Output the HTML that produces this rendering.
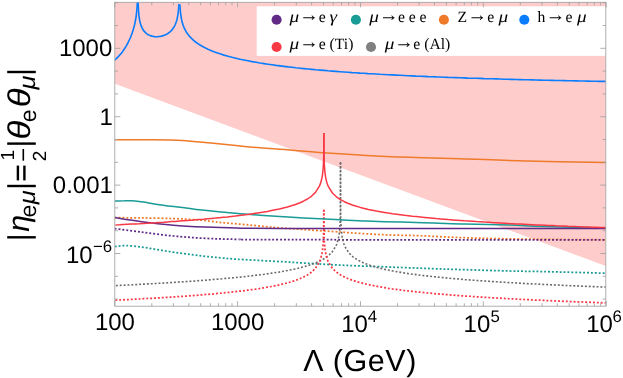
<!DOCTYPE html>
<html><head><meta charset="utf-8"><title>plot</title>
<style>html,body{margin:0;padding:0;background:#fff;}svg{display:block;will-change:transform;}text{font-family:"Liberation Sans",sans-serif;fill:#000;text-rendering:geometricPrecision;}.s{font-family:"Liberation Serif",serif;}.i{font-family:"Liberation Serif",serif;font-style:italic;}</style></head><body>
<svg width="623" height="378" viewBox="0 0 623 378">
<rect x="0" y="0" width="623" height="378" fill="#fff"/>
<clipPath id="c"><rect x="114.8" y="2.3" width="490.99999999999994" height="303.9"/></clipPath>
<g clip-path="url(#c)">
<path d="M114.8,2.3 L605.8,2.3 L605.8,266 L114.8,83.8 Z" fill="#ffcccc"/>
<path d="M114.8,217.7 C119.3,217.7 131.9,217.8 141.7,217.9 C151.5,218.1 163.9,218.2 173.5,218.6 C183.1,218.9 191.8,219.4 199.3,220.0 C206.8,220.6 213.4,221.6 218.5,222.2 C223.6,222.8 224.9,222.8 230.0,223.3 C235.1,223.8 242.9,224.4 249.3,225.0 C255.7,225.6 262.1,226.3 268.5,226.9 C274.9,227.5 280.9,228.0 287.8,228.5 C294.7,229.0 301.1,229.4 310.0,230.0 C318.9,230.6 333.1,231.5 341.3,232.1 C349.5,232.7 353.1,233.0 359.3,233.4 C365.5,233.8 372.1,234.2 378.5,234.5 C384.9,234.8 390.9,235.0 397.8,235.2 C404.7,235.4 409.9,235.3 420.0,235.7 C430.1,236.1 445.2,237.0 458.5,237.5 C471.8,238.0 484.8,238.4 500.0,238.7 C515.2,239.0 532.3,239.2 550.0,239.4 C567.7,239.6 596.7,239.7 606.0,239.8" fill="none" stroke="#ee7a2a" stroke-width="1.75" stroke-linejoin="round" stroke-dasharray="1.94,1.94"/>
<path d="M114.8,228.7 C119.3,229.3 131.9,231.0 141.7,232.2 C151.5,233.4 162.9,235.0 173.5,236.0 C184.1,237.0 194.6,237.8 205.2,238.3 C215.8,238.9 224.5,239.1 237.0,239.3 C249.5,239.5 218.5,239.6 280.0,239.7 C341.5,239.8 551.7,239.8 606.0,239.8" fill="none" stroke="#602a86" stroke-width="1.75" stroke-linejoin="round" stroke-dasharray="1.94,1.94"/>
<path d="M114.8,246.5 C116.7,246.3 121.4,245.5 125.9,245.6 C130.4,245.7 136.4,246.4 141.7,247.1 C147.0,247.8 152.3,248.8 157.6,249.7 C162.9,250.5 168.2,251.4 173.5,252.2 C178.8,253.0 184.1,253.7 189.4,254.4 C194.7,255.1 199.9,255.7 205.2,256.3 C210.5,256.9 215.8,257.4 221.1,257.9 C226.4,258.4 228.6,258.7 237.0,259.2 C245.4,259.7 260.6,260.5 271.7,261.1 C282.8,261.7 292.9,262.4 303.5,263.0 C314.1,263.6 324.6,264.4 335.2,264.9 C345.8,265.4 355.9,265.8 367.0,266.2 C378.1,266.6 390.6,267.1 401.7,267.5 C412.8,267.9 422.9,268.3 433.5,268.7 C444.1,269.1 452.5,269.3 465.2,269.7 C477.9,270.1 496.6,270.7 509.7,271.0 C522.8,271.3 527.5,271.2 543.5,271.6 C559.5,272.0 595.6,272.9 606.0,273.2" fill="none" stroke="#199b96" stroke-width="1.75" stroke-linejoin="round" stroke-dasharray="1.94,1.94"/>
<path d="M112.0,285.8 L116.0,285.6 L120.0,285.4 L124.0,285.2 L128.0,285.0 L132.0,284.8 L136.0,284.6 L140.0,284.3 L144.0,284.1 L148.0,283.9 L152.0,283.7 L156.0,283.5 L160.0,283.2 L164.0,283.0 L168.0,282.7 L172.0,282.5 L176.0,282.2 L180.0,282.0 L184.0,281.7 L188.0,281.4 L192.0,281.2 L196.0,280.9 L200.0,280.6 L204.0,280.3 L208.0,280.0 L212.0,279.6 L216.0,279.3 L220.0,279.0 L224.0,278.6 L228.0,278.2 L232.0,277.9 L236.0,277.5 L240.0,277.1 L244.0,276.7 L248.0,276.2 L252.0,275.8 L256.0,275.3 L260.0,274.8 L264.0,274.3 L268.0,273.7 L272.0,273.1 L276.0,272.5 L280.0,271.9 L284.0,271.2 L288.0,270.4 L292.0,269.6 L296.0,268.8 L300.0,267.8 L304.0,266.8 L308.0,265.6 L312.0,264.3 L316.0,262.8 L320.0,261.0 L324.0,258.8 L328.0,256.1 L332.0,252.2 L336.0,245.9 L336.5,244.7 L337.1,243.2 L337.5,241.8 L337.9,240.3 L338.3,238.8 L338.6,237.4 L338.9,235.9 L339.1,234.5 L339.3,233.0 L339.4,231.5 L339.6,230.1 L339.7,228.6 L339.8,227.1 L339.9,225.7 L340.0,224.2 L340.1,222.8 L340.1,221.3 L340.2,219.8 L340.2,218.4 L340.3,216.9 L340.3,215.5 L340.3,214.0 L340.3,212.5 L340.4,211.1 L340.4,209.6 L340.4,208.1 L340.4,206.7 L340.4,205.2 L340.4,203.8 L340.4,202.3 L340.5,200.8 L340.5,199.4 L340.5,197.9 L340.5,196.4 L340.5,195.0 L340.5,193.5 L340.5,192.1 L340.5,190.6 L340.5,189.1 L340.5,187.7 L340.5,162.0" fill="none" stroke="#6a6a6a" stroke-width="1.6" stroke-linejoin="round" stroke-dasharray="1.94,1.94"/>
<path d="M340.5,162.0 L340.5,188.5 L340.5,189.9 L340.5,191.4 L340.5,192.9 L340.5,194.3 L340.5,195.8 L340.5,197.2 L340.5,198.7 L340.5,200.2 L340.5,201.6 L340.6,203.1 L340.6,204.6 L340.6,206.0 L340.6,207.5 L340.6,208.9 L340.6,210.4 L340.6,211.9 L340.7,213.3 L340.7,214.8 L340.7,216.2 L340.7,217.7 L340.8,219.2 L340.8,220.6 L340.9,222.1 L340.9,223.6 L341.0,225.0 L341.1,226.5 L341.2,227.9 L341.3,229.4 L341.4,230.9 L341.6,232.3 L341.7,233.8 L341.9,235.2 L342.1,236.7 L342.4,238.2 L342.7,239.6 L343.1,241.1 L343.5,242.6 L343.9,244.0 L344.5,245.5 L345.0,246.7 L349.0,253.0 L353.0,256.8 L357.0,259.6 L361.0,261.7 L365.0,263.5 L369.0,265.0 L373.0,266.3 L377.0,267.4 L381.0,268.4 L385.0,269.4 L389.0,270.2 L393.0,271.0 L397.0,271.7 L401.0,272.4 L405.0,273.1 L409.0,273.7 L413.0,274.2 L417.0,274.7 L421.0,275.3 L425.0,275.7 L429.0,276.2 L433.0,276.6 L437.0,277.0 L441.0,277.4 L445.0,277.8 L449.0,278.2 L453.0,278.6 L457.0,278.9 L461.0,279.2 L465.0,279.6 L469.0,279.9 L473.0,280.2 L477.0,280.5 L481.0,280.8 L485.0,281.0 L489.0,281.3 L493.0,281.6 L497.0,281.8 L501.0,282.1 L505.0,282.3 L509.0,282.6 L513.0,282.8 L517.0,283.0 L521.0,283.2 L525.0,283.5 L529.0,283.7 L533.0,283.9 L537.0,284.1 L541.0,284.3 L545.0,284.5 L549.0,284.7 L553.0,284.9 L557.0,285.0 L561.0,285.2 L565.0,285.4 L569.0,285.6 L573.0,285.8 L577.0,285.9 L581.0,286.1 L585.0,286.3 L589.0,286.4 L593.0,286.6 L597.0,286.7 L601.0,286.9 L605.0,287.0 L609.0,287.2" fill="none" stroke="#6a6a6a" stroke-width="1.6" stroke-linejoin="round" stroke-dasharray="1.94,1.94"/>
<path d="M115.3,300.2 L119.3,300.0 L123.3,299.8 L127.3,299.6 L131.3,299.4 L135.3,299.2 L139.3,299.0 L143.3,298.7 L147.3,298.5 L151.3,298.3 L155.3,298.1 L159.3,297.8 L163.3,297.6 L167.3,297.3 L171.3,297.1 L175.3,296.8 L179.3,296.5 L183.3,296.3 L187.3,296.0 L191.3,295.7 L195.3,295.4 L199.3,295.1 L203.3,294.7 L207.3,294.4 L211.3,294.1 L215.3,293.7 L219.3,293.3 L223.3,292.9 L227.3,292.5 L231.3,292.1 L235.3,291.7 L239.3,291.2 L243.3,290.8 L247.3,290.2 L251.3,289.7 L255.3,289.2 L259.3,288.6 L263.3,287.9 L267.3,287.2 L271.3,286.5 L275.3,285.7 L279.3,284.9 L283.3,283.9 L287.3,282.9 L291.3,281.8 L295.3,280.5 L299.3,279.0 L303.3,277.2 L307.3,275.1 L311.3,272.3 L315.3,268.5 L319.3,262.2 L319.8,261.0 L320.4,259.5 L320.8,258.1 L321.2,256.6 L321.6,255.1 L321.9,253.7 L322.2,252.2 L322.4,250.7 L322.6,249.3 L322.7,247.8 L322.9,246.4 L323.0,244.9 L323.1,243.4 L323.2,242.0 L323.3,240.5 L323.4,239.1 L323.4,237.6 L323.5,236.1 L323.5,234.7 L323.6,233.2 L323.6,231.7 L323.6,230.3 L323.6,228.8 L323.7,227.4 L323.7,225.9 L323.7,224.4 L323.7,223.0 L323.7,221.5 L323.7,220.1 L323.7,218.6 L323.8,217.1 L323.8,215.7 L323.8,214.2 L323.8,212.7 L323.8,211.3 L323.8,209.8 L323.8,209.7" fill="none" stroke="#f93845" stroke-width="1.75" stroke-linejoin="round" stroke-dasharray="1.94,1.94"/>
<path d="M323.8,209.7 L323.8,211.0 L323.8,212.4 L323.8,213.9 L323.8,215.4 L323.8,216.8 L323.9,218.3 L323.9,219.8 L323.9,221.2 L323.9,222.7 L323.9,224.1 L323.9,225.6 L323.9,227.1 L324.0,228.5 L324.0,230.0 L324.0,231.4 L324.0,232.9 L324.1,234.4 L324.1,235.8 L324.2,237.3 L324.2,238.8 L324.3,240.2 L324.4,241.7 L324.5,243.1 L324.6,244.6 L324.7,246.1 L324.9,247.5 L325.0,249.0 L325.2,250.4 L325.4,251.9 L325.7,253.4 L326.0,254.8 L326.4,256.3 L326.8,257.8 L327.2,259.2 L327.8,260.7 L328.3,261.9 L332.3,268.2 L336.3,272.0 L340.3,274.8 L344.3,276.9 L348.3,278.7 L352.3,280.2 L356.3,281.5 L360.3,282.6 L364.3,283.6 L368.3,284.6 L372.3,285.4 L376.3,286.2 L380.3,286.9 L384.3,287.6 L388.3,288.3 L392.3,288.9 L396.3,289.4 L400.3,289.9 L404.3,290.5 L408.3,290.9 L412.3,291.4 L416.3,291.8 L420.3,292.2 L424.3,292.6 L428.3,293.0 L432.3,293.4 L436.3,293.8 L440.3,294.1 L444.3,294.4 L448.3,294.8 L452.3,295.1 L456.3,295.4 L460.3,295.7 L464.3,296.0 L468.3,296.2 L472.3,296.5 L476.3,296.8 L480.3,297.0 L484.3,297.3 L488.3,297.5 L492.3,297.8 L496.3,298.0 L500.3,298.2 L504.3,298.4 L508.3,298.7 L512.3,298.9 L516.3,299.1 L520.3,299.3 L524.3,299.5 L528.3,299.7 L532.3,299.9 L536.3,300.1 L540.3,300.2 L544.3,300.4 L548.3,300.6 L552.3,300.8 L556.3,301.0 L560.3,301.1 L564.3,301.3 L568.3,301.5 L572.3,301.6 L576.3,301.8 L580.3,301.9 L584.3,302.1 L588.3,302.2 L592.3,302.4 L596.3,302.5 L600.3,302.7 L604.3,302.8 L608.3,303.0" fill="none" stroke="#f93845" stroke-width="1.75" stroke-linejoin="round" stroke-dasharray="1.94,1.94"/>
<path d="M114.8,201.0 C116.4,201.0 121.4,200.8 124.3,200.8 C127.2,200.7 129.1,200.6 132.0,200.8 C134.9,201.0 138.9,201.5 141.7,201.8 C144.4,202.2 145.8,202.5 148.5,202.9 C151.2,203.3 154.4,204.0 157.6,204.5 C160.8,205.0 164.1,205.5 167.8,205.9 C171.5,206.3 176.3,206.8 180.0,207.2 C183.7,207.6 186.8,208.2 190.0,208.6 C193.2,209.0 194.6,209.3 199.3,209.8 C204.1,210.3 212.1,211.1 218.5,211.7 C224.9,212.3 230.9,212.8 237.8,213.4 C244.7,214.0 254.3,214.9 260.0,215.3 C265.6,215.7 264.4,215.6 271.7,216.0 C278.9,216.4 292.9,217.3 303.5,217.9 C314.1,218.5 324.6,219.0 335.2,219.5 C345.8,220.0 355.9,220.7 367.0,221.1 C378.1,221.5 390.6,221.8 401.7,222.1 C412.8,222.4 422.9,222.7 433.5,223.0 C444.1,223.3 452.5,223.7 465.2,224.0 C477.9,224.3 496.6,224.6 509.7,225.0 C522.8,225.4 527.5,226.0 543.5,226.5 C559.5,227.0 595.6,227.8 606.0,228.1" fill="none" stroke="#199b96" stroke-width="1.5" stroke-linejoin="round"/>
<path d="M114.8,217.6 C119.3,218.3 131.9,220.4 141.7,221.7 C151.5,223.0 162.9,224.3 173.5,225.2 C184.1,226.1 194.6,226.6 205.2,227.1 C215.8,227.6 224.5,227.9 237.0,228.1 C249.5,228.3 218.5,228.3 280.0,228.4 C341.5,228.5 551.7,228.4 606.0,228.4" fill="none" stroke="#602a86" stroke-width="1.5" stroke-linejoin="round"/>
<path d="M114.8,139.7 C121.2,139.7 142.1,139.6 153.3,139.7 C164.5,139.8 172.6,139.9 182.2,140.5 C191.8,141.1 201.4,142.2 211.0,143.1 C220.6,144.0 230.3,145.1 240.0,146.0 C249.7,146.9 260.7,147.9 269.0,148.6 C277.3,149.3 280.9,149.3 290.0,150.0 C299.1,150.7 310.6,151.8 323.4,152.7 C336.2,153.6 352.3,154.7 366.7,155.5 C381.1,156.3 394.4,156.8 410.0,157.3 C425.6,157.8 440.6,158.1 460.0,158.7 C479.4,159.3 502.4,160.4 526.7,161.0 C551.0,161.6 592.8,162.2 606.0,162.5" fill="none" stroke="#ee7a2a" stroke-width="1.5" stroke-linejoin="round"/>
<path d="M115.4,225.0 L119.4,224.8 L123.4,224.5 L127.4,224.3 L131.4,224.1 L135.4,223.9 L139.4,223.7 L143.4,223.4 L147.4,223.2 L151.4,222.9 L155.4,222.7 L159.4,222.4 L163.4,222.2 L167.4,221.9 L171.4,221.6 L175.4,221.4 L179.4,221.1 L183.4,220.8 L187.4,220.5 L191.4,220.2 L195.4,219.8 L199.4,219.5 L203.4,219.2 L207.4,218.8 L211.4,218.4 L215.4,218.1 L219.4,217.7 L223.4,217.3 L227.4,216.9 L231.4,216.4 L235.4,216.0 L239.4,215.5 L243.4,215.0 L247.4,214.5 L251.4,213.9 L255.4,213.3 L259.4,212.7 L263.4,212.1 L267.4,211.4 L271.4,210.6 L275.4,209.8 L279.4,209.0 L283.4,208.0 L287.4,207.0 L291.4,205.8 L295.4,204.5 L299.4,203.0 L303.4,201.2 L307.4,199.0 L311.4,196.3 L315.4,192.4 L319.4,186.1 L319.9,184.9 L320.5,183.4 L320.9,182.0 L321.3,180.5 L321.7,179.0 L322.0,177.6 L322.3,176.1 L322.5,174.7 L322.7,173.2 L322.8,171.7 L323.0,170.3 L323.1,168.8 L323.2,167.3 L323.3,165.9 L323.4,164.4 L323.5,163.0 L323.5,161.5 L323.6,160.0 L323.6,158.6 L323.7,157.1 L323.7,155.7 L323.7,154.2 L323.7,152.7 L323.8,151.3 L323.8,149.8 L323.8,148.3 L323.8,146.9 L323.8,145.4 L323.8,144.0 L323.8,142.5 L323.9,141.0 L323.9,139.6 L323.9,138.1 L323.9,136.6 L323.9,135.2 L323.9,133.7 L323.9,133.0" fill="none" stroke="#f93845" stroke-width="1.5" stroke-linejoin="round"/>
<path d="M323.9,133.0 L323.9,134.3 L323.9,135.8 L323.9,137.2 L323.9,138.7 L323.9,140.2 L323.9,141.6 L324.0,143.1 L324.0,144.6 L324.0,146.0 L324.0,147.5 L324.0,148.9 L324.0,150.4 L324.0,151.9 L324.1,153.3 L324.1,154.8 L324.1,156.2 L324.1,157.7 L324.2,159.2 L324.2,160.6 L324.3,162.1 L324.3,163.6 L324.4,165.0 L324.5,166.5 L324.6,167.9 L324.7,169.4 L324.8,170.9 L325.0,172.3 L325.1,173.8 L325.3,175.2 L325.5,176.7 L325.8,178.2 L326.1,179.6 L326.5,181.1 L326.9,182.6 L327.3,184.0 L327.9,185.5 L328.4,186.7 L332.4,193.0 L336.4,196.8 L340.4,199.6 L344.4,201.7 L348.4,203.5 L352.4,205.0 L356.4,206.3 L360.4,207.4 L364.4,208.4 L368.4,209.4 L372.4,210.2 L376.4,211.0 L380.4,211.7 L384.4,212.4 L388.4,213.1 L392.4,213.7 L396.4,214.2 L400.4,214.7 L404.4,215.3 L408.4,215.7 L412.4,216.2 L416.4,216.6 L420.4,217.0 L424.4,217.4 L428.4,217.8 L432.4,218.2 L436.4,218.6 L440.4,218.9 L444.4,219.2 L448.4,219.6 L452.4,219.9 L456.4,220.2 L460.4,220.5 L464.4,220.8 L468.4,221.0 L472.4,221.3 L476.4,221.6 L480.4,221.8 L484.4,222.1 L488.4,222.3 L492.4,222.6 L496.4,222.8 L500.4,223.0 L504.4,223.2 L508.4,223.5 L512.4,223.7 L516.4,223.9 L520.4,224.1 L524.4,224.3 L528.4,224.5 L532.4,224.7 L536.4,224.9 L540.4,225.0 L544.4,225.2 L548.4,225.4 L552.4,225.6 L556.4,225.8 L560.4,225.9 L564.4,226.1 L568.4,226.3 L572.4,226.4 L576.4,226.6 L580.4,226.7 L584.4,226.9 L588.4,227.0 L592.4,227.2 L596.4,227.3 L600.4,227.5 L604.4,227.6 L608.4,227.8" fill="none" stroke="#f93845" stroke-width="1.5" stroke-linejoin="round"/>
<path d="M114.3,60.3 L115.3,59.4 L116.3,58.6 L117.3,57.6 L118.3,56.6 L119.3,55.5 L120.3,54.4 L121.3,53.2 L122.3,51.9 L123.3,50.5 L124.3,49.0 L125.3,47.5 L126.3,45.8 L127.3,44.0 L128.3,42.1 L129.3,40.0 L130.3,37.8 L131.3,35.3 L132.3,32.6 L133.3,29.4 L134.3,25.8 L134.7,24.2 L135.2,21.8 L135.3,21.3 L135.6,19.5 L136.0,17.3 L136.3,15.1 L136.3,15.1 L136.5,13.0 L136.8,11.0 L136.9,9.0 L137.1,7.0 L137.2,5.1 L137.3,3.5 L137.3,3.2 L137.4,1.3 L137.8,0.5" fill="none" stroke="#0a7dff" stroke-width="1.65" stroke-linejoin="round"/>
<path d="M137.8,0.5 L138.1,1.6 L138.2,3.3 L138.2,5.1 L138.3,6.8 L138.3,6.9 L138.4,8.6 L138.5,10.3 L138.6,12.0 L138.8,13.7 L138.9,15.4 L139.2,17.1 L139.3,18.2 L139.4,18.8 L139.7,20.5 L140.1,22.1 L140.3,23.1 L140.5,23.8 L141.0,25.4 L141.3,26.1 L142.3,28.3 L143.3,30.0 L144.3,31.4 L145.3,32.4 L146.3,33.3 L147.3,34.1 L148.3,34.7 L149.3,35.2 L150.3,35.6 L151.3,35.9 L152.3,36.2 L153.3,36.4 L154.3,36.6 L155.3,36.7 L156.3,36.7 L157.3,36.7 L158.3,36.6 L159.3,36.5 L160.3,36.4 L161.3,36.2 L162.3,35.9 L163.3,35.6 L164.3,35.3 L165.3,34.8 L166.3,34.4 L167.3,33.8 L168.3,33.2 L169.3,32.4 L170.3,31.6 L171.3,30.6 L172.3,29.5 L173.3,28.1 L174.3,26.5 L175.3,24.5 L176.2,22.0 L176.3,21.8 L176.8,20.3 L177.2,18.6 L177.3,18.1 L177.5,16.9 L177.8,15.1 L178.1,13.4 L178.3,11.8 L178.3,11.7 L178.5,9.9 L178.6,8.2 L178.8,6.4 L178.9,4.7 L179.4,4.3" fill="none" stroke="#0a7dff" stroke-width="1.65" stroke-linejoin="round"/>
<path d="M179.4,4.3 L179.9,5.2 L180.0,7.0 L180.2,8.8 L180.3,10.5 L180.3,10.6 L180.5,12.4 L180.7,14.2 L181.0,16.0 L181.3,17.9 L181.3,18.1 L181.6,19.7 L182.0,21.6 L182.3,22.5 L182.6,23.4 L183.3,25.7 L184.3,28.1 L185.3,30.2 L186.3,31.9 L187.3,33.5 L188.3,34.8 L189.3,36.1 L190.3,37.2 L191.3,38.2 L192.3,39.2 L193.3,40.1 L194.3,41.0 L195.3,41.7 L196.3,42.5 L197.3,43.2 L198.3,43.9 L199.3,44.5 L200.0,45.0 L204.0,47.2 L208.0,49.2 L212.0,50.9 L216.0,52.4 L220.0,53.8 L224.0,55.1 L228.0,56.2 L232.0,57.3 L236.0,58.3 L240.0,59.2 L244.0,60.0 L248.0,60.8 L252.0,61.6 L256.0,62.3 L260.0,63.0 L264.0,63.6 L268.0,64.2 L272.0,64.8 L276.0,65.4 L280.0,65.9 L284.0,66.4 L288.0,66.9 L292.0,67.3 L296.0,67.8 L300.0,68.2 L304.0,68.6 L308.0,69.0 L312.0,69.4 L316.0,69.8 L320.0,70.1 L324.0,70.4 L328.0,70.8 L332.0,71.1 L336.0,71.4 L340.0,71.7 L344.0,72.0 L348.0,72.3 L352.0,72.6 L356.0,72.8 L360.0,73.1 L364.0,73.3 L368.0,73.6 L372.0,73.8 L376.0,74.0 L380.0,74.3 L384.0,74.5 L388.0,74.7 L392.0,74.9 L396.0,75.1 L400.0,75.3 L404.0,75.5 L408.0,75.7 L412.0,75.9 L416.0,76.1 L420.0,76.2 L424.0,76.4 L428.0,76.6 L432.0,76.7 L436.0,76.9 L440.0,77.0 L444.0,77.2 L448.0,77.4 L452.0,77.5 L456.0,77.6 L460.0,77.8 L464.0,77.9 L468.0,78.1 L472.0,78.2 L476.0,78.3 L480.0,78.4 L484.0,78.6 L488.0,78.7 L492.0,78.8 L496.0,78.9 L500.0,79.0 L504.0,79.2 L508.0,79.3 L512.0,79.4 L516.0,79.5 L520.0,79.6 L524.0,79.7 L528.0,79.8 L532.0,79.9 L536.0,80.0 L540.0,80.1 L544.0,80.2 L548.0,80.3 L552.0,80.4 L556.0,80.5 L560.0,80.5 L564.0,80.6 L568.0,80.7 L572.0,80.8 L576.0,80.9 L580.0,81.0 L584.0,81.0 L588.0,81.1 L592.0,81.2 L596.0,81.3 L600.0,81.4 L604.0,81.4 L606.0,81.5" fill="none" stroke="#0a7dff" stroke-width="1.65" stroke-linejoin="round"/>
</g>
<rect x="256.7" y="6.3" width="349.6" height="49.6" fill="#fff"/>
<g stroke="#a0a0a0" stroke-width="0.85" fill="none">
<rect x="114.8" y="2.3" width="490.99999999999994" height="303.9"/>
<path d="M114.8,306.2 v-5 M114.8,2.3 v5"/>
<path d="M151.8,306.2 v-3 M151.8,2.3 v3"/>
<path d="M173.4,306.2 v-3 M173.4,2.3 v3"/>
<path d="M188.8,306.2 v-3 M188.8,2.3 v3"/>
<path d="M200.7,306.2 v-3 M200.7,2.3 v3"/>
<path d="M210.4,306.2 v-3 M210.4,2.3 v3"/>
<path d="M218.6,306.2 v-3 M218.6,2.3 v3"/>
<path d="M225.7,306.2 v-3 M225.7,2.3 v3"/>
<path d="M232.0,306.2 v-3 M232.0,2.3 v3"/>
<path d="M237.6,306.2 v-5 M237.6,2.3 v5"/>
<path d="M274.6,306.2 v-3 M274.6,2.3 v3"/>
<path d="M296.3,306.2 v-3 M296.3,2.3 v3"/>
<path d="M311.6,306.2 v-3 M311.6,2.3 v3"/>
<path d="M323.5,306.2 v-3 M323.5,2.3 v3"/>
<path d="M333.2,306.2 v-3 M333.2,2.3 v3"/>
<path d="M341.5,306.2 v-3 M341.5,2.3 v3"/>
<path d="M348.6,306.2 v-3 M348.6,2.3 v3"/>
<path d="M354.9,306.2 v-3 M354.9,2.3 v3"/>
<path d="M360.5,306.2 v-5 M360.5,2.3 v5"/>
<path d="M397.5,306.2 v-3 M397.5,2.3 v3"/>
<path d="M419.1,306.2 v-3 M419.1,2.3 v3"/>
<path d="M434.5,306.2 v-3 M434.5,2.3 v3"/>
<path d="M446.4,306.2 v-3 M446.4,2.3 v3"/>
<path d="M456.1,306.2 v-3 M456.1,2.3 v3"/>
<path d="M464.3,306.2 v-3 M464.3,2.3 v3"/>
<path d="M471.4,306.2 v-3 M471.4,2.3 v3"/>
<path d="M477.7,306.2 v-3 M477.7,2.3 v3"/>
<path d="M483.3,306.2 v-5 M483.3,2.3 v5"/>
<path d="M520.3,306.2 v-3 M520.3,2.3 v3"/>
<path d="M542.0,306.2 v-3 M542.0,2.3 v3"/>
<path d="M557.3,306.2 v-3 M557.3,2.3 v3"/>
<path d="M569.2,306.2 v-3 M569.2,2.3 v3"/>
<path d="M578.9,306.2 v-3 M578.9,2.3 v3"/>
<path d="M587.2,306.2 v-3 M587.2,2.3 v3"/>
<path d="M594.3,306.2 v-3 M594.3,2.3 v3"/>
<path d="M600.6,306.2 v-3 M600.6,2.3 v3"/>
<path d="M606.2,306.2 v-5 M606.2,2.3 v5"/>
<path d="M114.8,299.1 h3.2 M605.8,299.1 h-3.2"/>
<path d="M114.8,276.3 h3.2 M605.8,276.3 h-3.2"/>
<path d="M114.8,253.5 h5.5 M605.8,253.5 h-5.5"/>
<path d="M114.8,230.7 h3.2 M605.8,230.7 h-3.2"/>
<path d="M114.8,207.9 h3.2 M605.8,207.9 h-3.2"/>
<path d="M114.8,185.1 h5.5 M605.8,185.1 h-5.5"/>
<path d="M114.8,162.3 h3.2 M605.8,162.3 h-3.2"/>
<path d="M114.8,139.5 h3.2 M605.8,139.5 h-3.2"/>
<path d="M114.8,116.7 h5.5 M605.8,116.7 h-5.5"/>
<path d="M114.8,93.9 h3.2 M605.8,93.9 h-3.2"/>
<path d="M114.8,71.1 h3.2 M605.8,71.1 h-3.2"/>
<path d="M114.8,48.3 h5.5 M605.8,48.3 h-5.5"/>
<path d="M114.8,25.5 h3.2 M605.8,25.5 h-3.2"/>
<path d="M114.8,2.7 h3.2 M605.8,2.7 h-3.2"/>
</g>
<circle cx="276.6" cy="19.7" r="5.05" fill="#602a86"/>
<circle cx="355.9" cy="19.7" r="5.05" fill="#199b96"/>
<circle cx="443.9" cy="19.7" r="5.05" fill="#ee7a2a"/>
<circle cx="524.3" cy="19.7" r="5.05" fill="#0a7dff"/>
<circle cx="276.6" cy="47.0" r="5.05" fill="#f93845"/>
<circle cx="371.0" cy="47.0" r="5.05" fill="#808080"/>
<text transform="translate(289.6,21.7) scale(1.16,1)" font-size="16.6" class="i">μ</text>
<text x="309.0" y="20.8" font-size="19.5" class="s" text-anchor="middle" xml:space="preserve">→</text>
<text x="318.7" y="21.7" font-size="15.7" class="s" text-anchor="start" xml:space="preserve">e</text>
<text transform="translate(329.6,21.7) scale(1.16,1)" font-size="16.6" class="i">γ</text>
<text transform="translate(369.3,21.7) scale(1.16,1)" font-size="16.6" class="i">μ</text>
<text x="388.7" y="20.8" font-size="19.5" class="s" text-anchor="middle" xml:space="preserve">→</text>
<text x="398.1" y="21.7" font-size="15.7" class="s" text-anchor="start" xml:space="preserve">e</text>
<text x="408.7" y="21.7" font-size="15.7" class="s" text-anchor="start" xml:space="preserve">e</text>
<text x="419.5" y="21.7" font-size="15.7" class="s" text-anchor="start" xml:space="preserve">e</text>
<text x="457.5" y="21.7" font-size="15.7" class="s" text-anchor="start" xml:space="preserve">Z</text>
<text x="477.2" y="20.8" font-size="19.5" class="s" text-anchor="middle" xml:space="preserve">→</text>
<text x="487.2" y="21.7" font-size="15.7" class="s" text-anchor="start" xml:space="preserve">e</text>
<text transform="translate(498.6,21.7) scale(1.16,1)" font-size="16.6" class="i">μ</text>
<text x="537.6" y="21.7" font-size="15.7" class="s" text-anchor="start" xml:space="preserve">h</text>
<text x="555.5" y="20.8" font-size="19.5" class="s" text-anchor="middle" xml:space="preserve">→</text>
<text x="565.6" y="21.7" font-size="15.7" class="s" text-anchor="start" xml:space="preserve">e</text>
<text transform="translate(576.9,21.7) scale(1.16,1)" font-size="16.6" class="i">μ</text>
<text transform="translate(289.6,49.3) scale(1.16,1)" font-size="16.6" class="i">μ</text>
<text x="309.0" y="48.4" font-size="19.5" class="s" text-anchor="middle" xml:space="preserve">→</text>
<text x="318.7" y="49.3" font-size="15.7" class="s" text-anchor="start" xml:space="preserve">e (Ti)</text>
<text transform="translate(384.8,49.3) scale(1.16,1)" font-size="16.6" class="i">μ</text>
<text x="403.9" y="48.4" font-size="19.5" class="s" text-anchor="middle" xml:space="preserve">→</text>
<text x="413.3" y="49.3" font-size="15.7" class="s" text-anchor="start" xml:space="preserve">e (Al)</text>
<g>
<text x="112.3" y="56.4" font-size="24" text-anchor="end">1000</text>
<text x="112.9" y="124.7" font-size="24" text-anchor="end">1</text>
<text x="112.9" y="193" font-size="24" text-anchor="end">0.001</text>
<text x="66" y="262.9" font-size="24">10</text><text x="93.0" y="252.1" font-size="16.8">−6</text>
<text x="114.9" y="329.7" font-size="24" text-anchor="middle">100</text>
<text x="237.6" y="329.7" font-size="24" text-anchor="middle">1000</text>
<text x="341.2" y="332.1" font-size="24">10</text><text x="367.7" y="321.6" font-size="16.8">4</text>
<text x="463.6" y="332.1" font-size="24">10</text><text x="490.4" y="321.6" font-size="16.8">5</text>
<text x="586.2" y="332.1" font-size="24">10</text><text x="612.6" y="321.6" font-size="16.8">6</text>
</g>
<text x="303.2" y="370.5" font-size="30.5">Λ</text><text x="332.8" y="370.5" font-size="30.5" letter-spacing="0.55">(GeV)</text>
<rect x="7.2" y="70.8" width="28.6" height="2.4" fill="#000"/>
<rect x="7.2" y="142.4" width="28.6" height="2.4" fill="#000"/>
<rect x="7.2" y="184.8" width="28.6" height="2.4" fill="#000"/>
<rect x="7.2" y="236.1" width="28.6" height="2.4" fill="#000"/>
<text transform="translate(28.8,231.8) rotate(-90) scale(1.0,1)" font-size="30.5" font-style="italic">η</text>
<text transform="translate(35.6,217.6) rotate(-90) scale(1.0,1)" font-size="23">e</text>
<text transform="translate(34.6,204.3) rotate(-90) scale(1.1,1)" font-size="23" font-style="italic">μ</text>
<text transform="translate(30.0,139.6) rotate(-90) scale(1.1,1)" font-size="31.5" font-style="italic">θ</text>
<text transform="translate(35.9,122.2) rotate(-90) scale(1.0,1)" font-size="23">e</text>
<text transform="translate(30.0,107.2) rotate(-90) scale(1.1,1)" font-size="31.5" font-style="italic">θ</text>
<text transform="translate(35.4,89.6) rotate(-90) scale(1.1,1)" font-size="23" font-style="italic">μ</text>
<rect x="16.7" y="165.6" width="2.4" height="14.8" fill="#000"/><rect x="23.2" y="165.6" width="2.4" height="14.8" fill="#000"/>
<text transform="translate(14.3,160.5) rotate(-90) scale(1.0,1)" font-size="19">1</text>
<text transform="translate(45.9,161.3) rotate(-90) scale(1.0,1)" font-size="19">2</text>
<rect x="22.5" y="149" width="1.6" height="11.7" fill="#000"/>
</svg></body></html>
